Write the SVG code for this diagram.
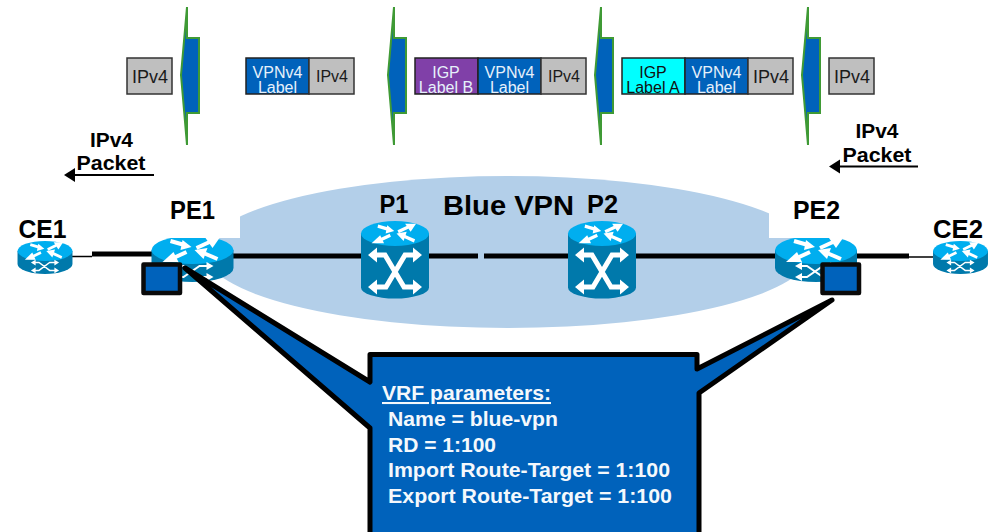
<svg xmlns="http://www.w3.org/2000/svg" width="992" height="532" viewBox="0 0 992 532">
<style>
text{font-family:"Liberation Sans",Arial,sans-serif}
.b{font-weight:bold;fill:#000}
.m{text-anchor:middle}
.lg{font-size:25px}
.pkt{font-size:20px}
.pk{fill:#bfbfbf;stroke:#333;stroke-width:1.5}
.bl{fill:#0062bb;stroke:#222;stroke-width:1.5}
.pu{fill:#8040a8;stroke:#222;stroke-width:1.5}
.cy{fill:#00ffff;stroke:#222;stroke-width:1.5}
.t{font-size:18px;fill:#1a1a1a;text-anchor:middle}
.t2{font-size:16px;fill:#1a1a1a;text-anchor:middle}
.w{font-size:16px;fill:#e6f0fa;text-anchor:middle}
.k{font-size:16px;fill:#111;text-anchor:middle}
.arrow{fill:#0062bb;stroke:#3f9a35;stroke-width:2}
.link{stroke:#000;stroke-width:5;fill:none}
.thin{stroke:#000;stroke-width:1.5;fill:none}
.top{fill:#00aeef}
.side{fill:#0079ab}
.ic{fill:none;stroke:#fff;stroke-width:4}
.ic2{fill:none;stroke:#fff;stroke-width:2}
.ih{fill:#fff}
.sq{fill:#0062bb;stroke:#0a0a0a;stroke-width:4.5;stroke-linejoin:round}
.v{font-size:20.5px;font-weight:bold;fill:#f4f8fc}
</style>
<defs>
<g id="topArrows">
<path class="ic" d="M-22,-9 L-8,-5"/><path class="ih" d="M-1,-3 L-12,0 L-10,-10Z"/>
<path class="ic" d="M4,-2 L17,-8"/><path class="ih" d="M27,-12 L20,-2 L13,-12Z"/>
<path class="ic" d="M-6,2 L-19,8"/><path class="ih" d="M-30,12 L-19,2 L-14,12Z"/>
<path class="ic" d="M25,9 L11,3"/><path class="ih" d="M2,0 L15,-2 L11,9Z"/>
</g>
<g id="router">
<path class="side" d="M-41,0 V18 A41,14 0 0 0 41,18 V0Z"/>
<ellipse class="top" rx="41" ry="14"/>
<use href="#topArrows"/>
<path class="ic2" d="M-15,16 H-9 L7,27 H15 M-15,27 H-9 L7,16 H15"/>
<path class="ih" d="M21,16 L14,12 V20Z M21,27 L14,23 V31Z M-21,16 L-14,12 V20Z M-21,27 L-14,23 V31Z"/>
</g>
<g id="switch">
<path class="side" d="M-34,0 V54 A34,11 0 0 0 34,54 V0Z"/>
<ellipse class="top" rx="34" ry="12.5"/>
<use href="#topArrows" transform="scale(.78,.82)"/>
<path d="M-20,21.500 H-10 L9,53.500 H20 M20,21.500 H10 L-9,53.500 H-20" fill="none" stroke="#fff" stroke-width="5"/>
<path class="ih" d="M-27,21.500 L-18,14 V29Z M27,21.500 L18,14 V29Z M-27,53.500 L-18,46 V61Z M27,53.500 L18,46 V61Z"/>
</g>
</defs>

<ellipse id="cloud" cx="508" cy="252" rx="303" ry="76" fill="#b3cfe9"/>

<g id="connectors">
<path class="thin" d="M72,256.500 H92"/>
<path class="link" d="M92,254 H152"/>
<path class="link" d="M233,256 H361"/>
<path class="link" d="M429,256 H478"/>
<path class="link" d="M484,256 H568"/>
<path class="link" d="M636,256 H775"/>
<path class="link" d="M857,256 H909"/>
<path class="thin" d="M909,257 H933"/>
</g>

<g id="packets">
<path class="arrow" d="M187,7 L181,75 L187,145 V113 H199 V38 H187Z"/>
<path class="arrow" d="M394,7 L388,75 L394,145 V113 H406 V38 H394Z"/>
<path class="arrow" d="M601,7 L595,75 L601,145 V113 H613 V38 H601Z"/>
<path class="arrow" d="M808,7 L802,75 L808,145 V113 H820 V38 H808Z"/>
<rect class="pk" x="127" y="58" width="45" height="36"/>
<text class="t" x="150" y="83">IPv4</text>
<rect class="bl" x="246" y="58" width="63" height="36"/>
<rect class="pk" x="309" y="58" width="45" height="36"/>
<text class="w" x="277.500" y="78">VPNv4</text><text class="w" x="277.500" y="93">Label</text>
<text class="t2" x="332" y="82">IPv4</text>
<rect class="pu" x="415" y="58" width="63" height="36"/>
<rect class="bl" x="478" y="58" width="63" height="36"/>
<rect class="pk" x="541" y="58" width="45" height="36"/>
<text class="w" x="446" y="78">IGP</text><text class="w" x="446" y="93">Label B</text>
<text class="w" x="509.500" y="78">VPNv4</text><text class="w" x="509.500" y="93">Label</text>
<text class="t2" x="564" y="82">IPv4</text>
<rect class="cy" x="622" y="58" width="63" height="36"/>
<rect class="bl" x="685" y="58" width="63" height="36"/>
<rect class="pk" x="748" y="58" width="45" height="36"/>
<text class="k" x="653" y="78">IGP</text><text class="k" x="653" y="93">Label A</text>
<text class="w" x="716.500" y="78">VPNv4</text><text class="w" x="716.500" y="93">Label</text>
<text class="t" x="771" y="83">IPv4</text>
<rect class="pk" x="829" y="58" width="45" height="36"/>
<text class="t" x="852" y="83">IPv4</text>
</g>

<g id="packet-left">
<text class="b m pkt" x="111.500" y="147" textLength="43" lengthAdjust="spacingAndGlyphs">IPv4</text>
<text class="b m pkt" x="111" y="170" textLength="69" lengthAdjust="spacingAndGlyphs">Packet</text>
<path d="M74,175 H154" stroke="#000" stroke-width="2"/>
<path d="M64,175 L75,168 V182Z"/>
</g>
<g id="packet-right">
<text class="b m pkt" x="877" y="138" textLength="43" lengthAdjust="spacingAndGlyphs">IPv4</text>
<text class="b m pkt" x="877" y="162" textLength="69" lengthAdjust="spacingAndGlyphs">Packet</text>
<path d="M839,166.500 H918" stroke="#000" stroke-width="2"/>
<path d="M829,166.500 L840,159.500 V173.500Z"/>
</g>

<g id="CE1"><use href="#router" transform="translate(45,251) scale(.67,.72)"/>
<text class="b lg m" x="42.500" y="238" textLength="48" lengthAdjust="spacingAndGlyphs">CE1</text></g>
<g id="PE1"><use href="#router" transform="translate(192.500,250)"/>
<rect x="150" y="192" width="90" height="46" fill="#fff"/>
<text class="b lg m" x="192.500" y="219" textLength="45" lengthAdjust="spacingAndGlyphs">PE1</text></g>
<g id="P1"><use href="#switch" transform="translate(395,233.500)"/>
<text class="b lg m" x="394" y="213" textLength="29" lengthAdjust="spacingAndGlyphs">P1</text></g>
<g id="P2"><use href="#switch" transform="translate(602,233.500)"/>
<text class="b lg m" x="602.500" y="213" textLength="31" lengthAdjust="spacingAndGlyphs">P2</text></g>
<g id="PE2"><use href="#router" transform="translate(816,250)"/>
<rect x="769" y="192" width="90" height="46" fill="#fff"/>
<text class="b lg m" x="816.500" y="219" textLength="47" lengthAdjust="spacingAndGlyphs">PE2</text></g>
<g id="CE2"><use href="#router" transform="translate(960.500,251) scale(.67,.72)"/>
<text class="b lg m" x="958" y="238" textLength="50" lengthAdjust="spacingAndGlyphs">CE2</text></g>
<text id="cloud-label" class="b m" x="508.500" y="215" font-size="27" textLength="131" lengthAdjust="spacingAndGlyphs">Blue VPN</text>

<g id="vrf-pe1"><rect class="sq" x="143.500" y="264.500" width="36.500" height="28.500"/></g>
<g id="vrf-pe2"><rect class="sq" x="822.500" y="264.500" width="36.500" height="28.500"/></g>

<g id="vrf-callout">
<path d="M370,354.500 H697 V369 L832,300 L699,393 V536 H370 V428 L185,268 L370,382Z" fill="#0062bb" stroke="#000" stroke-width="5" stroke-linejoin="round"/>
<text class="v" x="382" y="400" text-decoration="underline" textLength="169" lengthAdjust="spacingAndGlyphs">VRF parameters:</text>
<text class="v" x="388" y="426" textLength="170" lengthAdjust="spacingAndGlyphs">Name = blue-vpn</text>
<text class="v" x="388" y="452" textLength="108" lengthAdjust="spacingAndGlyphs">RD = 1:100</text>
<text class="v" x="388" y="477" textLength="282" lengthAdjust="spacingAndGlyphs">Import Route-Target = 1:100</text>
<text class="v" x="388" y="503" textLength="284" lengthAdjust="spacingAndGlyphs">Export Route-Target = 1:100</text>
</g>
</svg>
